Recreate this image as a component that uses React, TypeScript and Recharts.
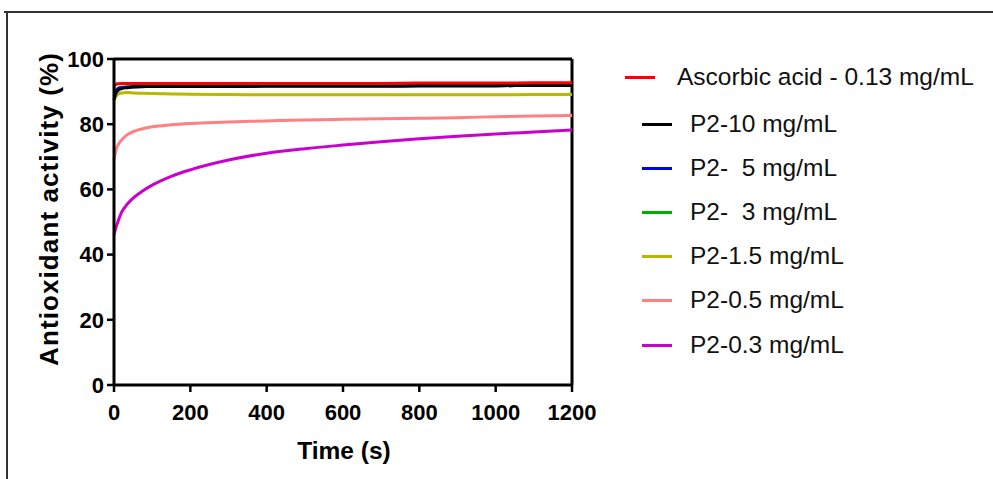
import React from "react";
import { LineChart, Line, XAxis, YAxis, ReferenceLine, Label } from "recharts";

const times = [0, 5, 10, 20, 35, 50, 75, 100, 150, 200, 300, 400, 500, 600, 700, 800, 900, 1000, 1100, 1200];
const ascorbic = [91.5, 92.2, 92.4, 92.5, 92.5, 92.5, 92.5, 92.5, 92.5, 92.5, 92.5, 92.5, 92.5, 92.5, 92.5, 92.6, 92.6, 92.6, 92.7, 92.7];
const p2_10 = [87.5, 89.5, 90.3, 90.9, 91.2, 91.4, 91.5, 91.6, 91.6, 91.6, 91.6, 91.7, 91.7, 91.7, 91.7, 91.8, 91.8, 91.8, 91.9, 91.9];
const p2_5 = [88.5, 90.0, 90.8, 91.2, 91.4, 91.5, 91.6, 91.6, 91.6, 91.6, 91.6, 91.7, 91.7, 91.7, 91.7, 91.8, 91.8, 91.8, 91.9, 91.9];
const p2_3 = [89.5, 90.5, 91.0, 91.3, 91.4, 91.5, 91.6, 91.6, 91.6, 91.6, 91.6, 91.7, 91.7, 91.7, 91.7, 91.8, 91.8, 91.8, 91.9, 91.9];
const p2_1_5 = [87.3, 88.5, 89.2, 89.6, 89.7, 89.6, 89.5, 89.4, 89.3, 89.2, 89.1, 89.0, 89.0, 89.0, 89.0, 89.0, 89.0, 89.0, 89.1, 89.1];
const p2_0_5 = [69.0, 72.0, 73.5, 75.2, 76.8, 77.7, 78.6, 79.2, 79.8, 80.2, 80.7, 81.0, 81.3, 81.5, 81.7, 81.8, 82.0, 82.3, 82.5, 82.7];
const p2_0_3 = [46.0, 48.3, 50.0, 53.0, 55.5, 57.3, 59.5, 61.3, 64.0, 66.0, 69.0, 71.1, 72.5, 73.6, 74.6, 75.5, 76.3, 77.0, 77.6, 78.2];

const seriesKeys = ["ascorbic", "p2_10", "p2_5", "p2_3", "p2_1_5", "p2_0_5", "p2_0_3"];
const seriesNames = [
  "Ascorbic acid - 0.13 mg/mL",
  "P2-10 mg/mL",
  "P2-  5 mg/mL",
  "P2-  3 mg/mL",
  "P2-1.5 mg/mL",
  "P2-0.5 mg/mL",
  "P2-0.3 mg/mL",
];
const seriesColors = ["#ff0000", "#000000", "#0000ff", "#00b000", "#b8b800", "#ff8080", "#cc00cc"];
const seriesValues = [ascorbic, p2_10, p2_5, p2_3, p2_1_5, p2_0_5, p2_0_3];
const drawOrder = [6, 5, 4, 3, 2, 1, 0];

const xTicks = [0, 200, 400, 600, 800, 1000, 1200];
const yTicks = [0, 20, 40, 60, 80, 100];

const data = times.map((t, i) => {
  const row: Record<string, number> = { time: t };
  seriesKeys.forEach((k, s) => {
    row[k] = seriesValues[s][i];
  });
  return row;
});

const FONT = "'Liberation Sans', Arial, Helvetica, sans-serif";

const legendTops = [77, 124, 168, 212, 256, 300, 345];

const LegendBlock = () => (
  <div style={{ position: "absolute", left: 0, top: 0, width: 993, height: 479, fontFamily: FONT, pointerEvents: "none" }}>
    {seriesNames.map((name, i) => {
      const lineX = i === 0 ? 625 : 642;
      const textX = i === 0 ? 677 : 690;
      return (
        <React.Fragment key={name}>
          <div
            style={{
              position: "absolute",
              left: lineX,
              top: legendTops[i] - 1.5,
              width: 30,
              height: 3,
              background: seriesColors[i],
            }}
          />
          <div
            style={{
              position: "absolute",
              left: textX,
              top: legendTops[i] - 15,
              fontSize: 24.5,
              lineHeight: "30px",
              color: "#111",
              whiteSpace: "pre",
            }}
          >
            {name}
          </div>
        </React.Fragment>
      );
    })}
  </div>
);

export default function App() {
  return (
    <div style={{ position: "fixed", left: 0, top: 0, width: 993, height: 479, background: "#fff" }}>
      <div style={{ position: "absolute", left: 4, top: 11, width: 989, height: 2, background: "#333" }} />
      <div style={{ position: "absolute", left: 6, top: 11, width: 2, height: 468, background: "#333" }} />
      <div style={{ position: "absolute", left: 0, top: 0 }}>
        <LineChart
          width={993}
          height={479}
          data={data}
          margin={{ top: 59, right: 421, bottom: 0, left: 54 }}
          style={{ fontFamily: FONT }}
        >
          <XAxis
            dataKey="time"
            type="number"
            domain={[0, 1200]}
            ticks={xTicks}
            height={94}
            axisLine={{ stroke: "#000", strokeWidth: 3 }}
            tickLine={{ stroke: "#000", strokeWidth: 2.5 }}
            tickSize={7}
            tickMargin={12}
            tick={{ fill: "#000", fontSize: 22, fontWeight: "bold", fontFamily: FONT }}
            interval={0}
          >
            <Label
              content={() => (
                <text
                  x={344}
                  y={459}
                  textAnchor="middle"
                  fontSize={24.5}
                  fontWeight="bold"
                  fontFamily={FONT}
                  fill="#000"
                >
                  Time (s)
                </text>
              )}
            />
          </XAxis>
          <YAxis
            type="number"
            domain={[0, 100]}
            ticks={yTicks}
            width={60}
            axisLine={{ stroke: "#000", strokeWidth: 3 }}
            tickLine={{ stroke: "#000", strokeWidth: 2.5 }}
            tickSize={7}
            tickMargin={3}
            tick={{ fill: "#000", fontSize: 22, fontWeight: "bold", fontFamily: FONT }}
            interval={0}
          >
            <Label
              content={() => {
                const cx = 58;
                const cy = 209;
                return (
                  <text
                    x={cx}
                    y={cy}
                    transform={`rotate(-90, ${cx}, ${cy})`}
                    textAnchor="middle"
                    fontSize={26}
                    fontWeight="bold"
                    fontFamily={FONT}
                    letterSpacing={1.1}
                    fill="#000"
                  >
                    Antioxidant activity (%)
                  </text>
                );
              }}
            />
          </YAxis>
          <ReferenceLine y={100} stroke="#000" strokeWidth={3} />
          <ReferenceLine x={1200} stroke="#000" strokeWidth={3} />
          {drawOrder.map((s) => (
            <Line
              key={seriesKeys[s]}
              dataKey={seriesKeys[s]}
              name={seriesNames[s]}
              type="monotone"
              stroke={seriesColors[s]}
              strokeWidth={3}
              dot={false}
              activeDot={false}
              isAnimationActive={false}
            />
          ))}
        </LineChart>
      </div>
      <LegendBlock />
    </div>
  );
}
